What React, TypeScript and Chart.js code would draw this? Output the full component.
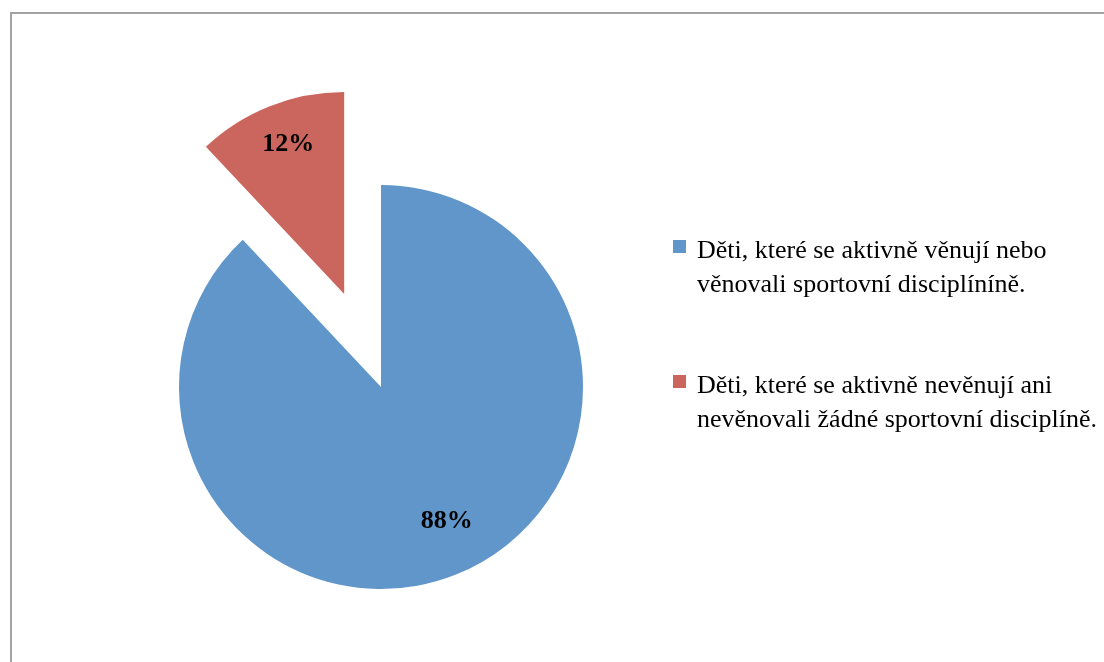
import React, { useEffect, useRef } from "react";
import { Chart, registerables } from "chart.js";

Chart.register(...registerables);

const categories = [
  "Děti, které se aktivně věnují nebo věnovali sportovní disciplíníně.",
  "Děti, které se aktivně nevěnují ani nevěnovali žádné sportovní disciplíně.",
];
const values = [88, 12];
const colors = ["#6096C9", "#CB665E"];
const explode = [0, 100];
const labelRadius = [0.74, 0.79];
const labelAngleShift = [-0.078, 0.019];

const LEGEND_FONT = "26px 'Liberation Serif', 'Times New Roman', serif";
const LABEL_FONT = "bold 26px 'Liberation Serif', 'Times New Roman', serif";

function wrap(ctx: CanvasRenderingContext2D, text: string, maxWidth: number): string[] {
  const words = text.split(" ");
  const lines: string[] = [];
  let cur = "";
  for (const w of words) {
    const test = cur ? cur + " " + w : w;
    if (ctx.measureText(test).width > maxWidth && cur) {
      lines.push(cur);
      cur = w;
    } else {
      cur = test;
    }
  }
  if (cur) lines.push(cur);
  return lines;
}

export default function App() {
  const ref = useRef<HTMLCanvasElement>(null);

  useEffect(() => {
    if (!ref.current) return;

    const framePlugin = {
      id: "frame",
      beforeDraw(chart: any) {
        const ctx = chart.ctx;
        ctx.save();
        ctx.fillStyle = "#ffffff";
        ctx.fillRect(0, 0, chart.width, chart.height);
        ctx.strokeStyle = "#A3A3A3";
        ctx.lineWidth = 2;
        ctx.strokeRect(11, 13, 1400, 1000);
        ctx.restore();
      },
    };

    const explodePlugin = {
      id: "explode",
      afterDatasetUpdate(chart: any, args: any) {
        const meta = args.meta;
        meta.data.forEach((arc: any, i: number) => {
          const d = explode[i];
          if (!d) return;
          const mid = (arc.startAngle + arc.endAngle) / 2;
          arc.x += Math.cos(mid) * d;
          arc.y += Math.sin(mid) * d;
        });
      },
    };

    const labelPlugin = {
      id: "labels",
      afterDatasetsDraw(chart: any) {
        const ctx = chart.ctx;
        const meta = chart.getDatasetMeta(0);
        ctx.save();
        ctx.font = LABEL_FONT;
        ctx.fillStyle = "#000000";
        ctx.textAlign = "center";
        ctx.textBaseline = "middle";
        meta.data.forEach((arc: any, i: number) => {
          const mid = (arc.startAngle + arc.endAngle) / 2 + labelAngleShift[i];
          const r = arc.outerRadius * labelRadius[i];
          ctx.fillText(values[i] + "%", arc.x + Math.cos(mid) * r, arc.y + Math.sin(mid) * r);
        });
        ctx.restore();
      },
    };

    const legendPlugin = {
      id: "customLegend",
      afterDraw(chart: any) {
        const ctx = chart.ctx;
        ctx.save();
        ctx.font = LEGEND_FONT;
        ctx.textBaseline = "alphabetic";
        ctx.textAlign = "left";
        const boxX = 673;
        const textX = 697;
        const firstTop = 240;
        const itemStep = 135;
        const lineH = 34;
        categories.forEach((label, i) => {
          const top = firstTop + i * itemStep;
          ctx.fillStyle = colors[i];
          ctx.fillRect(boxX, top, 13, 13);
          ctx.fillStyle = "#000000";
          const lines = wrap(ctx, label, 412);
          lines.forEach((ln, j) => {
            ctx.fillText(ln, textX, top + 18 + j * lineH);
          });
        });
        ctx.restore();
      },
    };

    const chart = new Chart(ref.current, {
      type: "pie",
      data: {
        labels: categories,
        datasets: [
          {
            data: values,
            backgroundColor: colors,
            borderWidth: 0,
          },
        ],
      },
      options: {
        responsive: false,
        animation: false,
        events: [],
        radius: 202,
        layout: { padding: { left: 0, right: 342, top: 112, bottom: 0 } },
        plugins: {
          legend: { display: false },
          tooltip: { enabled: false },
        },
      } as any,
      plugins: [framePlugin, explodePlugin, labelPlugin, legendPlugin],
    });

    return () => chart.destroy();
  }, []);

  return (
    <div style={{ position: "absolute", left: 0, top: 0, width: 1104, height: 662, overflow: "hidden" }}>
      <canvas ref={ref} width={1104} height={662} style={{ display: "block" }} />
    </div>
  );
}
